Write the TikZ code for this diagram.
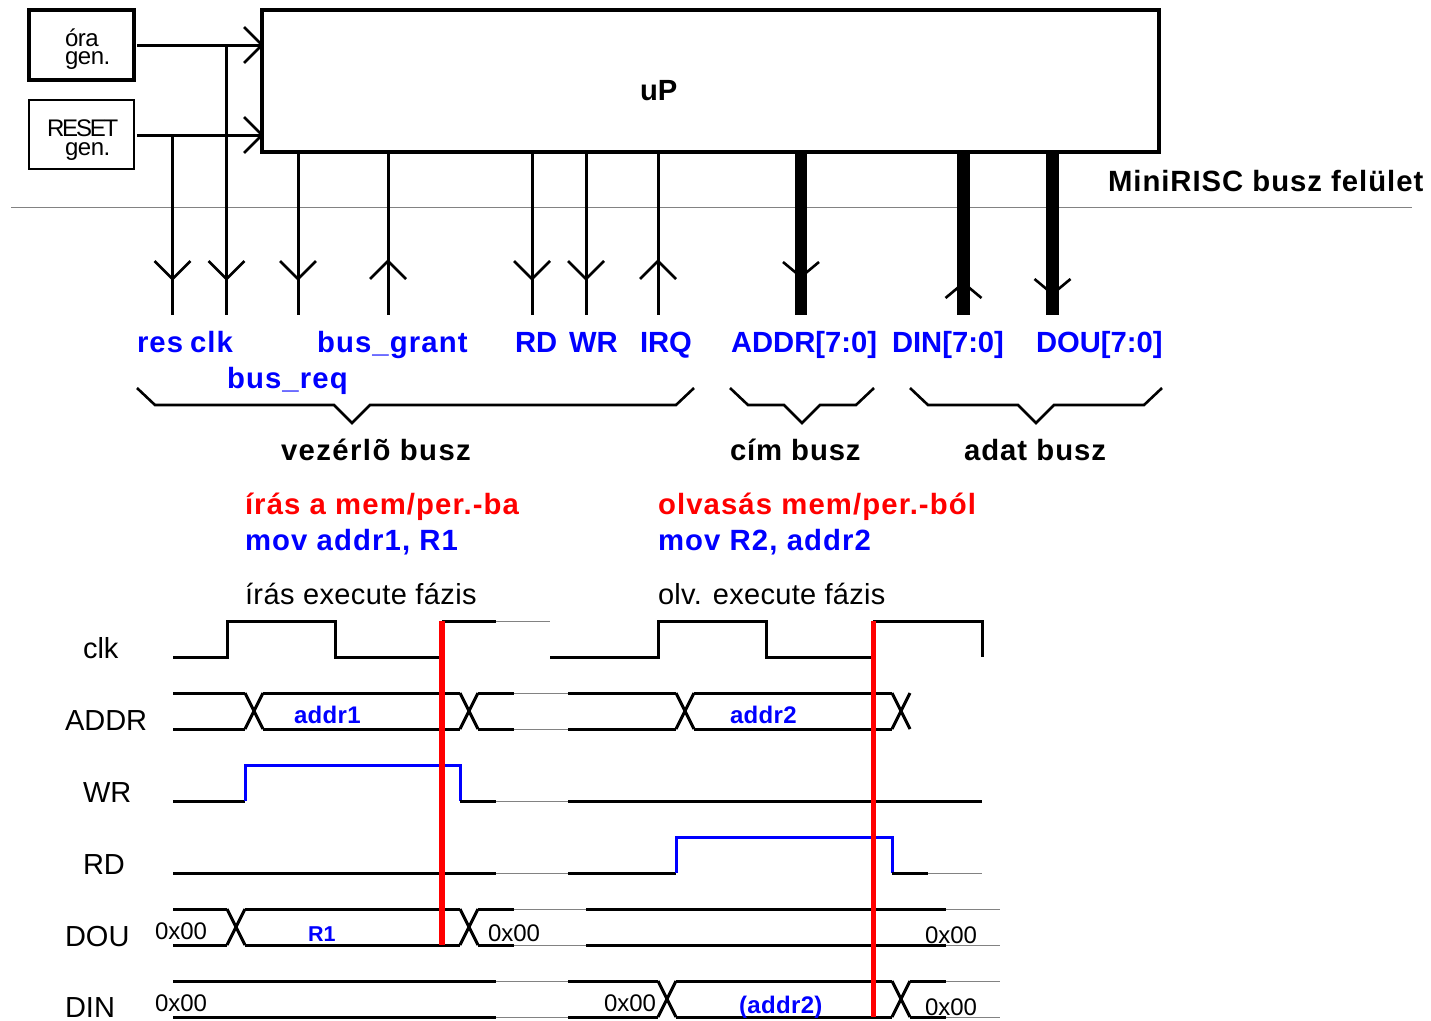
\documentclass[tikz,border=0pt]{standalone}
\usepackage{fontspec}
\setmainfont{Liberation Sans}
\newcommand{\szA}{\fontsize{29}{29}\selectfont}
\newcommand{\szB}{\fontsize{24}{24}\selectfont}
\newcommand{\szC}{\fontsize{29.3}{29}\selectfont\bfseries\addfontfeature{LetterSpace=3.8}}
\newcommand{\szD}{\fontsize{29.2}{29}\selectfont\bfseries}
\newcommand{\szE}{\fontsize{24}{24}\selectfont\bfseries\addfontfeature{LetterSpace=1.5}}
\definecolor{sigblue}{RGB}{0,0,255}
\definecolor{sigred}{RGB}{255,0,0}
\definecolor{thingray}{RGB}{130,130,130}
\tikzset{
  txt/.style={anchor=base west,inner sep=0pt,outer sep=0pt},
  box/.style={draw=black,fill=white,inner sep=0pt,minimum width=105pt},
  wire/.style={draw=black,line width=3pt},
  bus/.style={draw=black,line width=12.5pt},
  hd/.style={draw=black,line width=2.6pt,miter limit=10},
  tr/.style={draw=black,line width=3pt,line join=miter},
  trb/.style={draw=sigblue,line width=3pt},
  thn/.style={draw=thingray,line width=0.6pt},
  redl/.style={draw=sigred,line width=5.5pt}
}
\newcommand{\hdn}[2]{\draw[hd] (#1-18,#2-18) -- (#1,#2) -- (#1+18,#2-18);}
\newcommand{\hup}[2]{\draw[hd] (#1-18,#2+18) -- (#1,#2) -- (#1+18,#2+18);}
\newcommand{\hrt}[2]{\draw[hd] (#1-18,#2-18) -- (#1,#2) -- (#1-18,#2+18);}
\newcommand{\bdn}[2]{\draw[hd] (#1-18,#2-15) -- (#1,#2) -- (#1+18,#2-15);}
\newcommand{\bup}[2]{\draw[hd] (#1-18,#2+15) -- (#1,#2) -- (#1+18,#2+15);}
% crossing: x from #1 to #1+18, between y #2 and #3
\newcommand{\xing}[3]{\draw[tr] (#1,#2) -- (#1+18,#3) (#1,#3) -- (#1+18,#2);}
\begin{document}
\begin{tikzpicture}[x=1pt,y=-1pt]
\useasboundingbox (0,0) rectangle (1431,1020);
% divider
\draw[thn] (11,207.5) -- (1412,207.5);
% boxes
\node[box,line width=3.3pt,minimum height=70pt] (ora) at (81.5,45) {};
\node[box,line width=2.8pt,minimum height=69pt] (reset) at (81.5,134.5) {};
\node[draw=black,line width=3.6pt,inner sep=0pt,minimum width=897pt,minimum height=142pt] (up) at (710.5,81) {};
\node[txt] at (640,100) {\szD uP};
\node[txt] at (65,46) {\szB\addfontfeature{LetterSpace=-2}óra};
\node[txt] at (65,64) {\szB\addfontfeature{LetterSpace=-2}gen.};
\node[txt] at (47,136) {\szB\addfontfeature{LetterSpace=-9}RESET};
\node[txt] at (65,155) {\szB\addfontfeature{LetterSpace=-2}gen.};
% free ends
\coordinate (ckin) at (262,45); \coordinate (rsin) at (262,135);
\coordinate (cko) at (137,45); \coordinate (rso) at (137,135);
\coordinate (ckj) at (226.5,45); \coordinate (rsj) at (172.5,135);
\coordinate (ckb) at (226.5,315); \coordinate (rsb) at (172.5,315);
\foreach \n/\x in {brq/298,bgr/388,rd/532,wr/586,irq/658,ad/801,din/963.5,dou/1052.5}{
  \coordinate (\n t) at (\x,152);
  \coordinate (\n b) at (\x,315);
}
\draw[wire] (cko) -- (ckin);
\draw[wire] (rso) -- (rsin);
\draw[wire] (ckj) -- (ckb);
\draw[wire] (rsj) -- (rsb);
\foreach \n in {brq,bgr,rd,wr,irq}{\draw[wire] (\n t) -- (\n b);}
\foreach \n in {ad,din,dou}{\draw[bus] (\n t) -- (\n b);}
\hrt{262}{45}\hrt{262}{135}
\hdn{172.5}{279}\hdn{226.5}{279}\hdn{298}{279}\hup{388}{261}
\hdn{532}{279}\hdn{586}{279}\hup{658}{261}
\bdn{801}{277}\bup{963.5}{283}\bdn{1052.5}{294}
% labels
\node[txt] at (1108,191) {\szC\addfontfeature{LetterSpace=3.3}MiniRISC busz felület};
\node[txt,text=sigblue] at (137,352) {\szC res};
\node[txt,text=sigblue] at (190,352) {\szC clk};
\node[txt,text=sigblue] at (317,352) {\szC bus\_grant};
\node[txt,text=sigblue] at (227,388) {\szC bus\_req};
\node[txt,text=sigblue] at (515,352) {\szD RD};
\node[txt,text=sigblue] at (569,352) {\szD WR};
\node[txt,text=sigblue] at (640,352) {\szD IRQ};
\node[txt,text=sigblue] at (731,352) {\szD ADDR[7:0]};
\node[txt,text=sigblue] at (892,352) {\szD DIN[7:0]};
\node[txt,text=sigblue] at (1036,352) {\szD DOU[7:0]};
% braces
\draw[hd] (137,388) -- (155,405) -- (334,405) -- (352,423) -- (370,405) -- (676,405) -- (694,388);
\draw[hd] (730,388) -- (748,405) -- (784,405) -- (802,423) -- (820,405) -- (856,405) -- (874,388);
\draw[hd] (910,388) -- (928,405) -- (1018,405) -- (1036,423) -- (1054,405) -- (1144,405) -- (1162,388);
\node[txt] at (281,460) {\szC\addfontfeature{LetterSpace=4.8}vezérlõ busz};
\node[txt] at (730,460) {\szC\addfontfeature{LetterSpace=3}cím busz};
\node[txt] at (964,460) {\szC\addfontfeature{LetterSpace=3.4}adat busz};
\node[txt,text=sigred] at (245,514) {\szC írás a mem/per.-ba};
\node[txt,text=sigblue] at (245,550) {\szC mov addr1, R1};
\node[txt,text=sigred] at (658,514) {\szC olvasás mem/per.-ból};
\node[txt,text=sigblue] at (658,550) {\szC mov R2, addr2};
\node[txt] at (245,604) {\szA\addfontfeature{LetterSpace=1.4}írás execute fázis};
\node[txt] at (658,604) {\szA\addfontfeature{LetterSpace=1}olv. execute fázis};
\node[txt] at (83,658) {\szA clk};
\node[txt] at (65,730) {\szA ADDR};
\node[txt] at (83,802) {\szA WR};
\node[txt] at (83,874) {\szA RD};
\node[txt] at (65,946) {\szA DOU};
\node[txt] at (65,1017) {\szA DIN};
% clk
\draw[tr] (173,657) -- (227,657) -- (227,621) -- (335,621) -- (335,657) -- (441,657);
\draw[tr] (442,621) -- (496,621);
\draw[thn] (496,621) -- (550,621);
\draw[tr] (550,657) -- (658,657) -- (658,621) -- (766,621) -- (766,657) -- (873,657);
\draw[tr] (873,621) -- (982,621) -- (982,657);
% ADDR
\foreach \y in {693,729}{
  \draw[tr] (173,\y) -- (245,\y) (263,\y) -- (460,\y) (478,\y) -- (514,\y) (568,\y) -- (676,\y) (694,\y) -- (892,\y);
  \draw[thn] (514,\y) -- (568,\y);
}
\xing{245}{693}{729}\xing{460}{693}{729}\xing{676}{693}{729}\xing{892}{693}{729}
% WR
\draw[tr] (173,801) -- (245,801);
\draw[trb] (245,801) -- (245,765) -- (460,765) -- (460,801);
\draw[tr] (460,801) -- (496,801);
\draw[thn] (496,801) -- (568,801);
\draw[tr] (568,801) -- (982,801);
% RD
\draw[tr] (173,873) -- (496,873);
\draw[thn] (496,873) -- (568,873);
\draw[tr] (568,873) -- (676,873);
\draw[trb] (676,873) -- (676,837) -- (892,837) -- (892,873);
\draw[tr] (892,873) -- (928,873);
\draw[thn] (928,873) -- (982,873);
% DOU
\foreach \y in {909,945}{
  \draw[tr] (173,\y) -- (227,\y) (245,\y) -- (460,\y) (478,\y) -- (514,\y) (586,\y) -- (946,\y);
  \draw[thn] (514,\y) -- (586,\y) (946,\y) -- (1000,\y);
}
\xing{227}{909}{945}\xing{460}{909}{945}
% DIN
\foreach \y in {981,1017}{
  \draw[tr] (173,\y) -- (496,\y) (568,\y) -- (658,\y) (676,\y) -- (892,\y) (910,\y) -- (946,\y);
  \draw[thn] (496,\y) -- (568,\y) (946,\y) -- (1000,\y);
}
\xing{658}{981}{1017}\xing{892}{981}{1017}
% red
\draw[redl] (442,621) -- (442,945);
\draw[redl] (873.5,621) -- (873.5,1017);
% timing texts
\node[txt,text=sigblue] at (294,723) {\szE addr1};
\node[txt,text=sigblue] at (730,723) {\szE addr2};
\node[txt,text=sigblue] at (308,941) {\fontsize{21.5}{22}\selectfont\bfseries R1};
\node[txt,text=sigblue] at (739,1013) {\szE (addr2)};
\node[txt] at (155,939) {\szB 0x00};
\node[txt] at (488,941) {\szB 0x00};
\node[txt] at (925,943) {\szB 0x00};
\node[txt] at (155,1011) {\szB 0x00};
\node[txt] at (604,1011) {\szB 0x00};
\node[txt] at (925,1015) {\szB 0x00};
\end{tikzpicture}
\end{document}
